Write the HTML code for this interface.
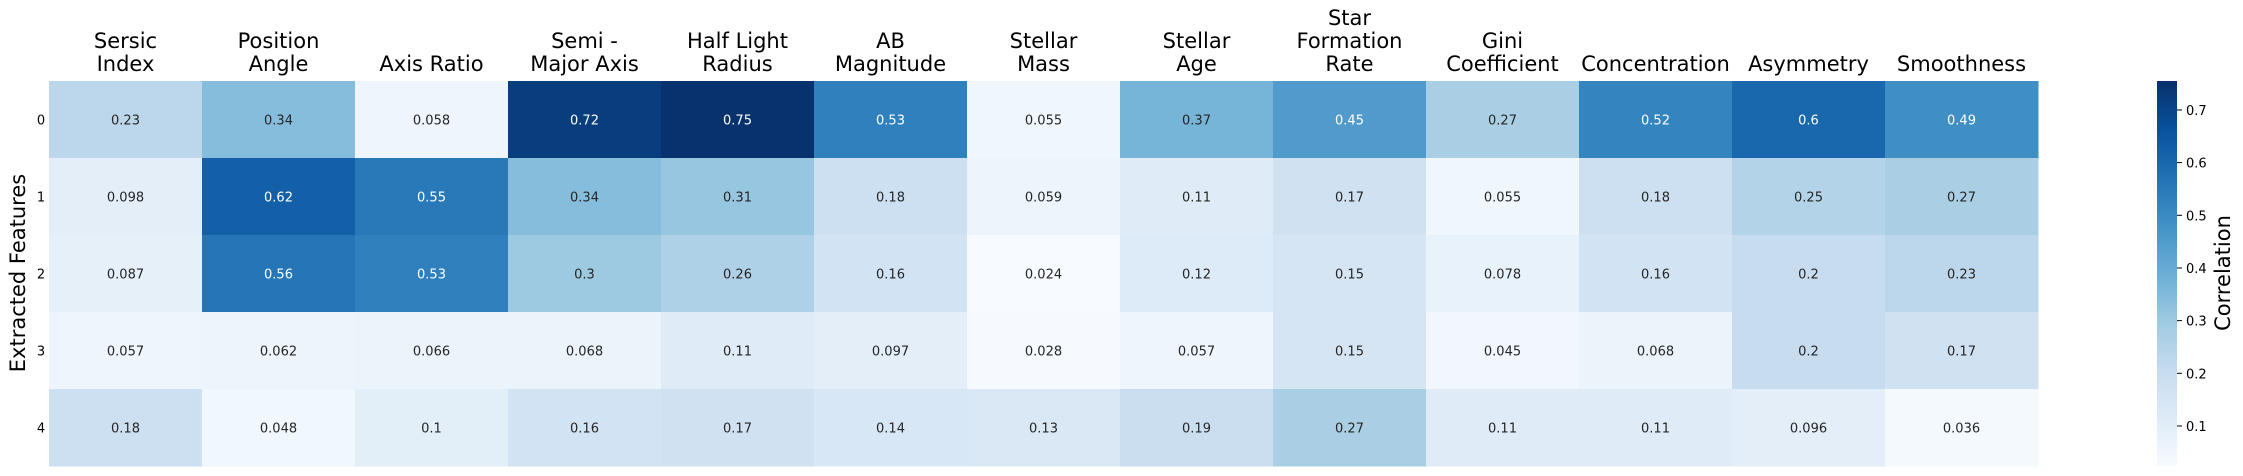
<!DOCTYPE html>
<html><head><meta charset="utf-8"><style>
html,body{margin:0;padding:0;background:#fff;width:2243px;height:476px;overflow:hidden}
svg{display:block;font-family:"DejaVu Sans","Liberation Sans",sans-serif}
</style></head><body>
<svg id="chart" width="2243" height="476" viewBox="0 0 2243 476"></svg>
<script>
const columns = [["Sersic","Index"],["Position","Angle"],["Axis Ratio"],["Semi -","Major Axis"],["Half Light","Radius"],["AB","Magnitude"],["Stellar","Mass"],["Stellar","Age"],["Star","Formation","Rate"],["Gini","Coefficient"],["Concentration"],["Asymmetry"],["Smoothness"]];
const rowLabels = ["0","1","2","3","4"];
const row0 = [0.23,0.34,0.058,0.72,0.75,0.53,0.055,0.37,0.45,0.27,0.52,0.6,0.49];
const row1 = [0.098,0.62,0.55,0.34,0.31,0.18,0.059,0.11,0.17,0.055,0.18,0.25,0.27];
const row2 = [0.087,0.56,0.53,0.3,0.26,0.16,0.024,0.12,0.15,0.078,0.16,0.2,0.23];
const row3 = [0.057,0.062,0.066,0.068,0.11,0.097,0.028,0.057,0.15,0.045,0.068,0.2,0.17];
const row4 = [0.18,0.048,0.1,0.16,0.17,0.14,0.13,0.19,0.27,0.11,0.11,0.096,0.036];
const values = [row0,row1,row2,row3,row4];
const cbTicks = [0.1,0.2,0.3,0.4,0.5,0.6,0.7];
const vmin = 0.024, vmax = 0.755;

const NS="http://www.w3.org/2000/svg";
const svg=document.getElementById('chart');
const X0=49, Y0=81, CW=153, RH=77;
const xPos=i=>X0+i*CW, yPos=j=>Y0+j*RH;
const stops=[[247,251,255],[222,235,247],[198,219,239],[158,202,225],[107,174,214],[66,146,198],[33,113,181],[8,81,156],[8,48,107]];
function cmap(v){let t=Math.max(0,Math.min(1,(v-vmin)/(vmax-vmin)))*8;let i=Math.min(7,Math.floor(t)),f=t-i;
 return stops[i].map((c,k)=>Math.round(c+(stops[i+1][k]-c)*f));}
function el(tag,attrs,text){const e=document.createElementNS(NS,tag);for(const k in attrs)e.setAttribute(k,attrs[k]);if(text!==undefined)e.textContent=text;svg.appendChild(e);return e;}
function lum(c){const l=c.map(x=>{x/=255;return x<=0.03928?x/12.92:Math.pow((x+0.055)/1.055,2.4)});return 0.2126*l[0]+0.7152*l[1]+0.0722*l[2];}

values.forEach((row,j)=>row.forEach((v,i)=>{
 const c=cmap(v);
 const r=el('rect',{x:xPos(i),y:yPos(j),width:CW+0.5,height:RH+0.5,fill:`rgb(${c})`});
 
 
 const t=el('text',{x:xPos(i)+CW/2,y:yPos(j)+RH/2+5,'text-anchor':'middle','font-size':13,fill:lum(c)>0.408?'#262626':'#ffffff'},String(v));
 
 
}));
columns.forEach((lines,i)=>{
 lines.forEach((ln,k)=>{
  const t=el('text',{x:xPos(i)+CW/2,y:71-(lines.length-1-k)*23,'text-anchor':'middle','font-size':21,fill:'#000'},ln);
  
  
 });
});
rowLabels.forEach((lb,j)=>{
 const t=el('text',{x:41,y:yPos(j)+RH/2+5,'text-anchor':'middle','font-size':13,fill:'#000'},lb);
 
 
});
const yl=el('text',{x:0,y:0,transform:'translate(25,273) rotate(-90)','text-anchor':'middle','font-size':21,fill:'#000'},'Extracted Features');



// colorbar
const CBX=2157, CBW=20, CBT=81, CBB=466;
const defs=el('defs',{});
const grad=document.createElementNS(NS,'linearGradient');
grad.setAttribute('id','g');grad.setAttribute('x1','0');grad.setAttribute('y1','1');grad.setAttribute('x2','0');grad.setAttribute('y2','0');
stops.forEach((c,k)=>{const s=document.createElementNS(NS,'stop');s.setAttribute('offset',k/8);s.setAttribute('stop-color',`rgb(${c})`);grad.appendChild(s);});
defs.appendChild(grad);
const cb=el('rect',{x:CBX,y:CBT,width:CBW,height:CBB-CBT,fill:'url(#g)'});


const cy=v=>CBB-(v-vmin)/(vmax-vmin)*(CBB-CBT);
cbTicks.forEach(v=>{
 const tk=el('line',{x1:CBX+CBW,x2:CBX+CBW+5,y1:cy(v),y2:cy(v),stroke:'#000','stroke-width':1});
 
 
 const t=el('text',{x:CBX+CBW+9,y:cy(v)+5,'font-size':13,fill:'#000'},v.toFixed(1));
 
 
});
const cl=el('text',{x:0,y:0,transform:'translate(2230,273) rotate(-90)','text-anchor':'middle','font-size':21,fill:'#000'},'Correlation');


</script>
</body></html>
